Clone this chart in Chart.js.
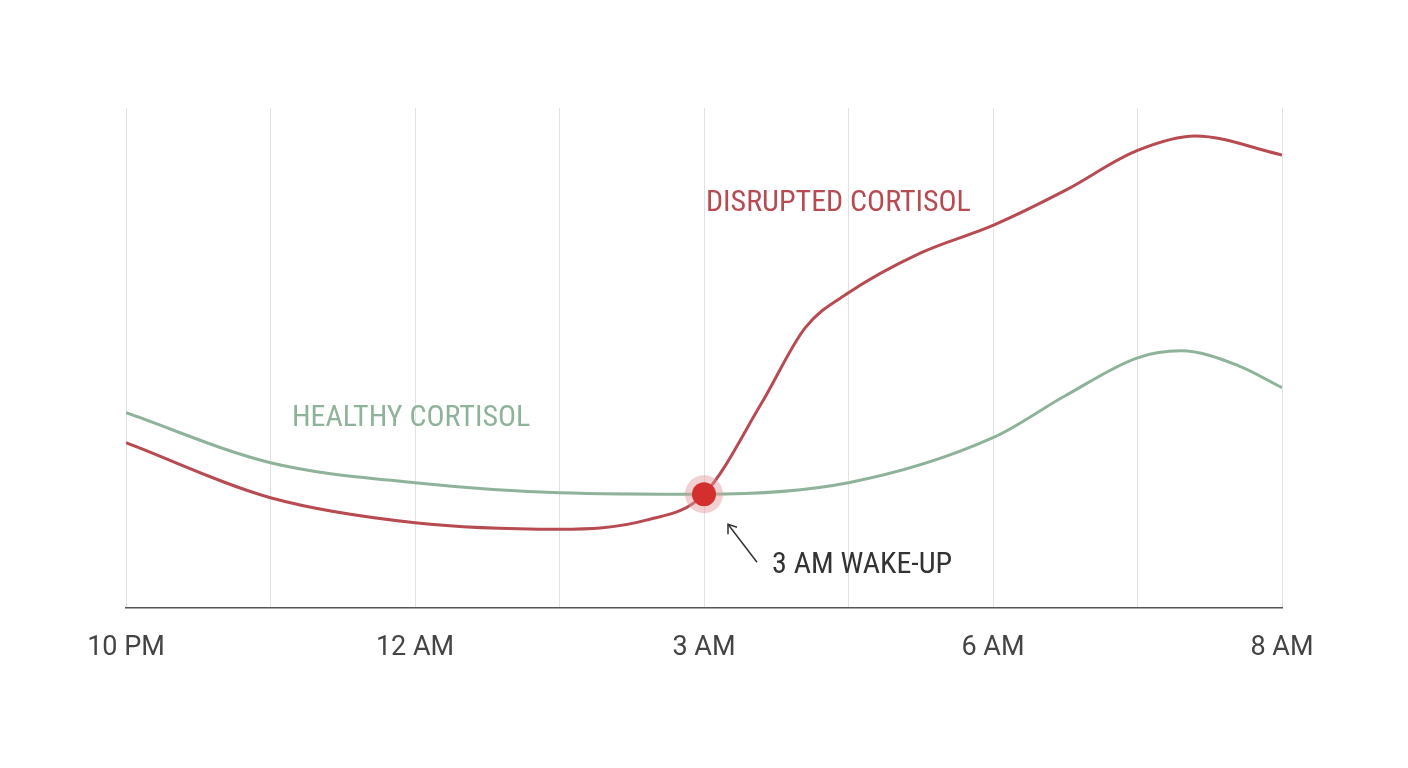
<!DOCTYPE html>
<html><head><meta charset="utf-8">
<script src="https://cdn.jsdelivr.net/npm/chart.js@4"></script>
<style>html,body{margin:0;background:#fff}#w{width:1408px;height:768px}</style>
</head><body><div id="w"><canvas id="c"></canvas></div>
<script>
const tickLabels = {0:'10 PM',2:'12 AM',4:'3 AM',6:'6 AM',8:'8 AM'};
const healthyX = [0,1,2,3,4,5,6,6.5,7,7.3,7.7,8];
const healthyY = [39,29,25,23,22.7,25,34,42.4,50,51.4,48.4,44];
const disruptedX = [0,1,2,3,3.6,4,4.4,4.7,5,5.5,6,6.5,7,7.4,8];
const disruptedY = [33,22,17,15.7,17.5,22.7,41,56,63,71,76.5,83.5,91.5,94.4,90.6];
const wake = {x:4, y:22.7};

const labelsPlugin = {
  id:'labels',
  afterDatasetsDraw(chart){
    const {ctx, scales:{x,y}} = chart;
    ctx.save();
    const px = x.getPixelForValue(wake.x), py = y.getPixelForValue(wake.y);
    ctx.fillStyle='rgba(226,150,155,0.45)';
    ctx.beginPath();ctx.arc(px,py,19,0,Math.PI*2);ctx.fill();
    ctx.fillStyle='#d32f2f';
    ctx.beginPath();ctx.arc(px,py,12,0,Math.PI*2);ctx.fill();
    ctx.strokeStyle='#333';ctx.lineWidth=1.5;
    ctx.beginPath();ctx.moveTo(px+53,py+68);ctx.lineTo(px+24,py+30);ctx.stroke();
    ctx.beginPath();ctx.moveTo(px+24,py+40);ctx.lineTo(px+24,py+30);ctx.lineTo(px+33,py+33);ctx.stroke();
    ctx.font='30px "Roboto Condensed", "Liberation Sans Narrow", Roboto, sans-serif';
    ctx.textBaseline='middle';ctx.textAlign='left';
    ctx.fillStyle='#333';ctx.fillText('3 AM WAKE-UP',772,565);
    ctx.fillStyle='#b84a52';ctx.fillText('DISRUPTED CORTISOL',706,203);
    ctx.fillStyle='#8fb39a';ctx.fillText('HEALTHY CORTISOL',292,418);
    ctx.restore();
  }
};

new Chart(document.getElementById('c'),{
  type:'line',
  data:{datasets:[
    {data:healthyX.map((v,i)=>({x:v,y:healthyY[i]})),borderColor:'#8fb39a',borderWidth:3,pointRadius:0,cubicInterpolationMode:'monotone'},
    {data:disruptedX.map((v,i)=>({x:v,y:disruptedY[i]})),borderColor:'#b84a52',borderWidth:3,pointRadius:0,cubicInterpolationMode:'monotone'}
  ]},
  options:{
    responsive:true,maintainAspectRatio:false,animation:false,
    layout:{padding:{left:126,right:126,top:108,bottom:80}},
    plugins:{legend:{display:false},tooltip:{enabled:false}},
    scales:{
      x:{type:'linear',min:0,max:8,
        grid:{color:'#e2e2e2',drawTicks:false},
        border:{color:'#555',width:1.5},
        ticks:{stepSize:1,padding:24,autoSkip:false,maxRotation:0,color:'#444',
          font:{size:27,family:'Roboto, sans-serif'},
          callback:v=>tickLabels[v]||''}},
      y:{display:false,min:0,max:100}
    }
  },
  plugins:[labelsPlugin]
});
</script></body></html>
